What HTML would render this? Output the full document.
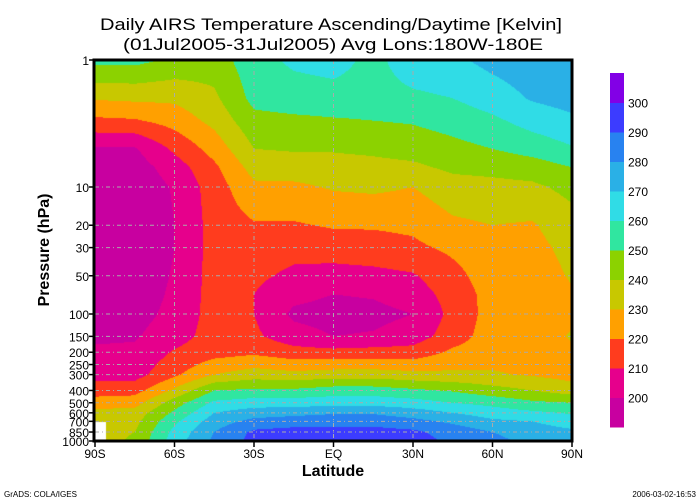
<!DOCTYPE html>
<html><head><meta charset="utf-8">
<style>
html,body{margin:0;padding:0;background:#fff;width:700px;height:500px;overflow:hidden;}
#wrap{position:relative;width:700px;height:500px;}
canvas{position:absolute;left:95px;top:60px;}
svg{position:absolute;left:0;top:0;}
text{font-family:"Liberation Sans",sans-serif;fill:#000;}
</style></head>
<body>
<div id="wrap">
<canvas id="field" width="477" height="381"></canvas>
<svg id="ov" width="700" height="500"></svg>
</div>
<script>
// ---- data ----
const lats = [-90,-75,-60,-45,-30,-15,0,15,30,45,60,75,90];
const levels = [1,2,3,5,7,10,20,30,50,70,100,150,200,300,400,500,600,700,850,1000];
const colM90 = [253,231,218,199,195,193,192,192,192,193,195,198,202,207,215,225,233,235,235,235];
const colM75 = [253,232,219,199,195,193,192,192,193,194,196,199,202,206,216,226,234,237,240,242];
const colM60 = [248,232,224,212,205,201,200,200,201,202,203,206,211,218,232,245,252,258,263,265];
const colM45 = [245,238,233,224,218,215,214,214,214,214,214,214,216,230,250,262,270,275,280,282];
const colM30 = [256,253,247,240,234,228,219,215,212,210,210,212,218,235,252,265,275,283,292,293];
const colM15 = [262,255,248,241,235,228,219,213,208,203,198,204,214,233,252,265,277,285,294,296];
const colEQ  = [264,256,249,241,236,231,221,215,206,200,196,200,213,235,255,266,279,286,294,296];
const colN15 = [257,256,250,242,237,232,221,216,207,201,197,201,214,235,255,266,279,286,294,296];
const colN30 = [266,258,251,244,238,230,222,218,209,205,200,205,214,233,252,264,275,283,292,294];
const colN45 = [268,260,254,247,242,236,228,222,217,214,213,215,222,232,249,260,270,278,286,288];
const colN60 = [273,265,258,250,243,237,230,226,225,224,224,225,226,231,244,257,265,272,280,283];
const colN75 = [276,271,264,254,245,238,229,227,225,224,224,225,226,229,240,252,262,270,275,277];
const colN90 = [280,274,268,259,250,243,236,233,231,229,228,231,228,226,235,250,259,265,272,275];
const columns = [colM90,colM75,colM60,colM45,colM30,colM15,colEQ,colN15,colN30,colN45,colN60,colN75,colN90];
const contourLevels = [200,210,220,230,240,250,260,270,280,290,300];
const bandColors = ["#c800a0","#e6008c","#ff3c1e","#ffa000","#c8c800","#8cd200","#30e6a0","#30dce6","#2ab0e6","#2882f0","#3c3cff","#8200e6"];
const latTicks = [-90,-60,-30,0,30,60,90];
const latTickLabels = ["90S","60S","30S","EQ","30N","60N","90N"];
const pTicks = [1,10,20,30,50,100,150,200,250,300,400,500,600,700,850,1000];
const pGrid = [10,20,30,50,100,150,200,250,300,400,500,600,700,850];

// ---- axes ----
const X0=95,X1=572,Y0=60,Y1=441;
const xs = lat => X0+(lat+90)/180*(X1-X0);
const ys = p => Y0+Math.log10(p)/3*(Y1-Y0);

// ---- field ----
const cv=document.getElementById('field');const ctx=cv.getContext('2d');
const img=ctx.createImageData(477,381);
const lp=levels.map(p=>Math.log10(p));
function hex(c){return [parseInt(c.substr(1,2),16),parseInt(c.substr(3,2),16),parseInt(c.substr(5,2),16)];}
const rgb=bandColors.map(hex);
for(let py=0;py<381;py++){
  const L=(py+0.5)/381*3;
  let j=0;while(j<lp.length-2&&L>lp[j+1])j++;
  const fy=Math.min(1,Math.max(0,(L-lp[j])/(lp[j+1]-lp[j])));
  for(let px=0;px<477;px++){
    const lat=-90+(px+0.5)/477*180;
    let i=0;while(i<lats.length-2&&lat>lats[i+1])i++;
    const fx=(lat-lats[i])/(lats[i+1]-lats[i]);
    const a=columns[i],b=columns[i+1];
    const v=(a[j]*(1-fx)+b[j]*fx)*(1-fy)+(a[j+1]*(1-fx)+b[j+1]*fx)*fy;
    let k=0;while(k<contourLevels.length&&v>=contourLevels[k])k++;
    const c=rgb[k];const o=(py*477+px)*4;
    img.data[o]=c[0];img.data[o+1]=c[1];img.data[o+2]=c[2];img.data[o+3]=255;
  }
}
ctx.putImageData(img,0,0);
ctx.fillStyle="#fff";ctx.fillRect(0,362,11,19);

// ---- overlay ----
const NS="http://www.w3.org/2000/svg";const svg=document.getElementById('ov');
function mk(t,at,txt){const e=document.createElementNS(NS,t);for(const k in at)e.setAttribute(k,at[k]);if(txt!==undefined)e.textContent=txt;svg.appendChild(e);return e;}
let e;
pGrid.forEach(p=>{
  e=mk('line',{x1:X0,x2:X1,y1:ys(p),y2:ys(p),stroke:"#aaa","stroke-width":1,"stroke-dasharray":"4,3,1,3"});
  
  
});
latTicks.slice(1,-1).forEach(l=>{
  e=mk('line',{x1:xs(l),x2:xs(l),y1:Y0,y2:Y1,stroke:"#aaa","stroke-width":1,"stroke-dasharray":"4,3,1,3"});
  
  
});
e=mk('path',{d:`M${X0-1} ${Y0} H${X1} V${Y1} H${X0-1} Z`,fill:"none",stroke:"#000","stroke-width":3});


pTicks.forEach(p=>{
  mk('line',{x1:X0-6,x2:X0,y1:ys(p),y2:ys(p),stroke:"#000","stroke-width":1.5});
  e=mk('text',{x:X0-6,y:ys(p)+5,"text-anchor":"end","font-size":12},String(p));
  
  
});
latTicks.forEach((l,i)=>{
  mk('line',{x1:xs(l),x2:xs(l),y1:Y1,y2:Y1+6,stroke:"#000","stroke-width":1.5});
  e=mk('text',{x:xs(l),y:Y1+17,"text-anchor":"middle","font-size":12},latTickLabels[i]);
  
  
});
e=mk('text',{x:331,y:30,"text-anchor":"middle","font-size":17,textLength:462,lengthAdjust:"spacingAndGlyphs"},"Daily AIRS Temperature Ascending/Daytime [Kelvin]");


e=mk('text',{x:333,y:50,"text-anchor":"middle","font-size":17,textLength:420,lengthAdjust:"spacingAndGlyphs","xml:space":"preserve"},"(01Jul2005-31Jul2005)  Avg Lons:180W-180E");


e=mk('text',{x:333,y:476,"text-anchor":"middle","font-size":16,"font-weight":"bold"},"Latitude");


e=mk('text',{x:0,y:0,"text-anchor":"middle","font-size":16,"font-weight":"bold",transform:"translate(49,250) rotate(-90)"},"Pressure (hPa)");


// colorbar
const CB0=73,CB1=427,bh=(CB1-CB0)/bandColors.length;
bandColors.forEach((c,i)=>{
  e=mk('rect',{x:610,y:CB1-(i+1)*bh,width:14,height:bh+0.5,fill:c});
  
  
});
contourLevels.forEach((v,i)=>{
  e=mk('text',{x:628,y:CB1-(i+1)*bh+5,"font-size":12},String(v));
  
  
});
e=mk('text',{x:4,y:497,"font-size":8},"GrADS: COLA/IGES");


e=mk('text',{x:696,y:497,"font-size":8,"text-anchor":"end"},"2006-03-02-16:53");


</script>
</body></html>
